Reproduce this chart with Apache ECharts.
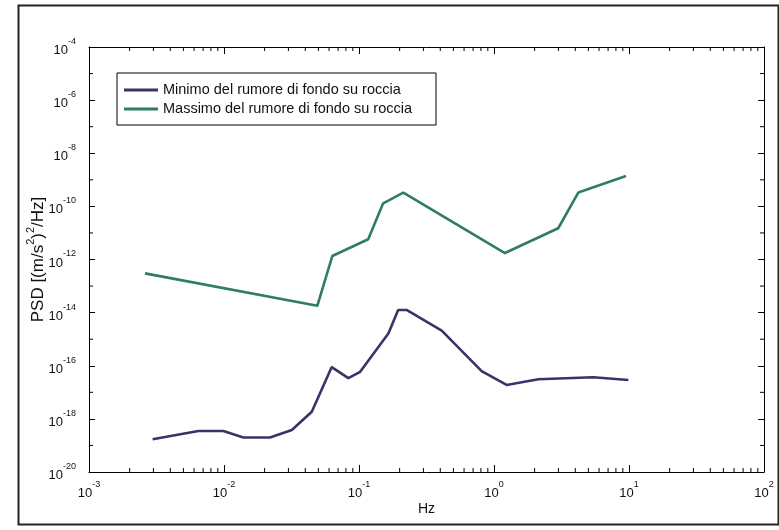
<!DOCTYPE html>
<html>
<head>
<meta charset="utf-8">
<script src="https://cdn.jsdelivr.net/npm/echarts@6/dist/echarts.min.js"></script>
<style>
html,body{margin:0;padding:0;background:#fff;}
#c{width:779px;height:530px;}
</style>
</head>
<body>
<div id="c"></div>
<script>
// ---- data ----
const seriesNames = ['Minimo del rumore di fondo su roccia', 'Massimo del rumore di fondo su roccia'];
const minFreq = [0.00296, 0.00646, 0.00989, 0.0139, 0.0219, 0.0318, 0.0447, 0.0628, 0.0834, 0.102, 0.165, 0.195, 0.225, 0.41, 0.81, 1.24, 2.13, 5.44, 9.9];
const minPSD  = [1.7e-19, 3.5e-19, 3.5e-19, 2.0e-19, 2.0e-19, 3.8e-19, 1.85e-18, 8.9e-17, 3.4e-17, 5.9e-17, 1.65e-15, 1.26e-14, 1.26e-14, 2.1e-15, 6.3e-17, 1.9e-17, 3.1e-17, 3.7e-17, 2.9e-17];
const maxFreq = [0.0026, 0.0491, 0.0634, 0.117, 0.151, 0.213, 1.205, 2.99, 4.21, 9.5];
const maxPSD  = [3.0e-13, 1.8e-14, 1.35e-12, 5.8e-12, 1.3e-10, 3.3e-10, 1.75e-12, 1.5e-11, 3.3e-10, 1.4e-9];
// axis ranges / ticks
const xMin = 1e-3, xMax = 1e2;
const yMin = 1e-20, yMax = 1e-4;
const xDecades = [1e-3, 1e-2, 1e-1, 1e0, 1e1];
const xMinorMultipliers = [2, 3, 4, 5, 6, 7, 8, 9];
const yMinorTicks = [1e-19, 1e-17, 1e-15, 1e-13, 1e-11, 1e-9, 1e-7, 1e-5];
const xLabel = 'Hz';
const yLabelRich = '{t|PSD [(m/s}{s|2}{t|)}{s|2}{t|/Hz]}';

const xMinorTicks = [];
xDecades.forEach(d => xMinorMultipliers.forEach(m => xMinorTicks.push(d * m)));

const FONT = "'Liberation Sans',Arial,Helvetica,sans-serif";
const colors = ['#35356a', '#2f7d66'];

function powLabel(v) {
  const e = Math.round(Math.log10(v));
  return '{b|10}{s|' + e + '}';
}
const richLab = {
  b: {fontSize: 13, fontFamily: FONT, color: '#111', verticalAlign: 'bottom', lineHeight: 20},
  s: {fontSize: 9, fontFamily: FONT, color: '#111', verticalAlign: 'top', lineHeight: 20}
};

const chart = echarts.init(document.getElementById('c'), null, {renderer: 'canvas'});
const tickLen = 4;
const option = {
  animation: false,
  backgroundColor: '#fff',
  color: colors,
  grid: {left: 89, top: 47, width: 675, height: 425, containLabel: false},
  legend: {
    orient: 'vertical', left: 117, top: 73,
    data: seriesNames,
    icon: 'rect',
    backgroundColor: '#fff', borderColor: '#000', borderWidth: 1,
    padding: [9, 24, 8, 7], itemGap: 3, itemWidth: 34, itemHeight: 3,
    textStyle: {fontSize: 14.5, lineHeight: 16, fontFamily: FONT, color: '#111'}
  },
  xAxis: [{
    type: 'log', logBase: 10, min: xMin, max: xMax, position: 'bottom',
    name: xLabel, nameLocation: 'middle', nameGap: 30, nameMoveOverlap: false,
    nameTextStyle: {fontSize: 14, fontFamily: FONT, color: '#111'},
    axisLine: {show: true, lineStyle: {color: '#000', width: 1}},
    axisTick: {show: true, inside: true, length: 7, lineStyle: {color: '#000'}},
    axisLabel: {formatter: powLabel, rich: richLab, margin: 8},
    splitLine: {show: false}
  }, {
    type: 'log', logBase: 10, min: xMin, max: xMax, position: 'top',
    axisLine: {show: true, lineStyle: {color: '#000', width: 1}},
    axisTick: {show: true, inside: true, length: 7, lineStyle: {color: '#000'}},
    axisLabel: {show: false}, splitLine: {show: false}
  }],
  yAxis: [{
    type: 'log', logBase: 100, min: yMin, max: yMax, position: 'left',
    name: yLabelRich, nameLocation: 'middle', nameGap: 42, nameRotate: 90, nameMoveOverlap: false,
    nameTextStyle: {
      rich: {
        t: {fontSize: 17, fontFamily: FONT, color: '#111', verticalAlign: 'bottom', lineHeight: 22},
        s: {fontSize: 11, fontFamily: FONT, color: '#111', verticalAlign: 'top', lineHeight: 22}
      }
    },
    axisLine: {show: true, lineStyle: {color: '#000', width: 1}},
    axisTick: {show: true, inside: true, length: 6, lineStyle: {color: '#000'}},
    axisLabel: {formatter: powLabel, rich: richLab, margin: 13},
    splitLine: {show: false}
  }, {
    type: 'log', logBase: 100, min: yMin, max: yMax, position: 'right',
    axisLine: {show: true, lineStyle: {color: '#000', width: 1}},
    axisTick: {show: true, inside: true, length: 6, lineStyle: {color: '#000'}},
    axisLabel: {show: false}, splitLine: {show: false}
  }],
  series: [
    {
      name: seriesNames[0], type: 'line', xAxisIndex: 0, yAxisIndex: 0,
      data: minFreq.map((f, i) => [f, minPSD[i]]),
      symbol: 'none', lineStyle: {width: 2.6, color: colors[0]}, itemStyle: {color: colors[0]}
    },
    {
      name: seriesNames[1], type: 'line', xAxisIndex: 0, yAxisIndex: 0,
      data: maxFreq.map((f, i) => [f, maxPSD[i]]),
      symbol: 'none', lineStyle: {width: 2.6, color: colors[1]}, itemStyle: {color: colors[1]}
    },
    {
      name: 'xminor', type: 'custom', xAxisIndex: 0, yAxisIndex: 0, silent: true,
      data: xMinorTicks.map(v => [v, 1e-12]),
      renderItem: function (params, api) {
        const v = api.value(0);
        const pb = api.coord([v, yMin]);
        const pt = api.coord([v, yMax]);
        return {type: 'group', children: [
          {type: 'line', shape: {x1: pb[0], y1: pb[1], x2: pb[0], y2: pb[1] - tickLen}, style: {stroke: '#000', lineWidth: 1}},
          {type: 'line', shape: {x1: pt[0], y1: pt[1], x2: pt[0], y2: pt[1] + tickLen}, style: {stroke: '#000', lineWidth: 1}}
        ]};
      }
    },
    {
      name: 'yminor', type: 'custom', xAxisIndex: 0, yAxisIndex: 0, silent: true,
      data: yMinorTicks.map(v => [1, v]),
      renderItem: function (params, api) {
        const v = api.value(1);
        const pl = api.coord([xMin, v]);
        const pr = api.coord([xMax, v]);
        return {type: 'group', children: [
          {type: 'line', shape: {x1: pl[0], y1: pl[1], x2: pl[0] + tickLen, y2: pl[1]}, style: {stroke: '#000', lineWidth: 1}},
          {type: 'line', shape: {x1: pr[0], y1: pr[1], x2: pr[0] - tickLen, y2: pr[1]}, style: {stroke: '#000', lineWidth: 1}}
        ]};
      }
    }
  ],
  graphic: [{
    type: 'rect', left: 16, top: 3, shape: {width: 760, height: 519},
    style: {fill: 'none', stroke: '#222', lineWidth: 2}, silent: true
  }]
};
chart.setOption(option);
</script>
</body>
</html>
